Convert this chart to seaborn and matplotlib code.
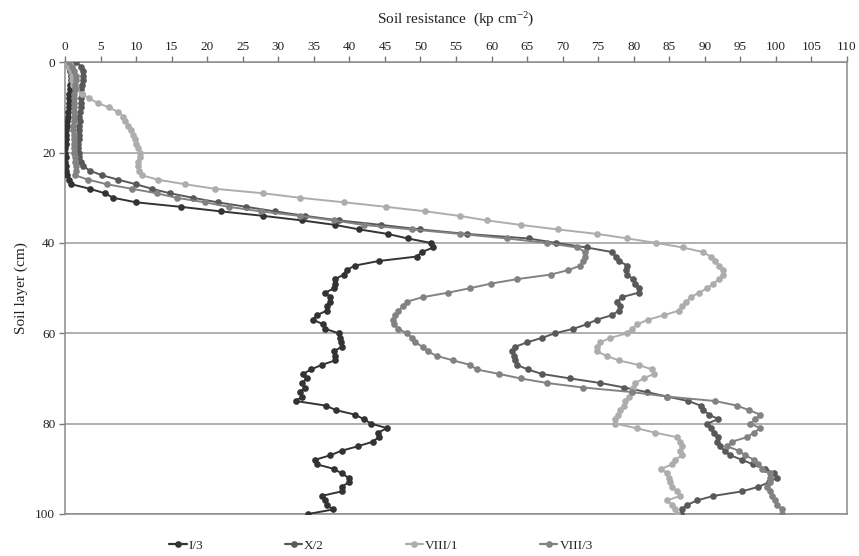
import numpy as np
import pandas as pd
import matplotlib
matplotlib.use("Agg")
import matplotlib.pyplot as plt
from matplotlib.lines import Line2D
import seaborn as sns

# ---------------- data ----------------
depth = list(range(0, 101))

I3 = [
    0.2, 0.5, 0.7, 0.8, 0.8, 0.7, 0.7, 0.6, 0.6, 0.5,
    0.5, 0.4, 0.4, 0.3, 0.3, 0.2, 0.2, 0.1, 0.1, 0.0,
    0.0, 0.1, 0.0, 0.1, 0.2, 0.3, 0.5, 0.9, 3.5, 5.6,
    6.8, 10.0, 16.3, 21.9, 27.9, 33.3, 38.0, 41.4, 45.4, 48.2,
    51.5, 51.8, 50.2, 49.5, 44.1, 40.8, 39.6, 39.2, 38.0, 38.0,
    37.9, 36.6, 37.3, 37.3, 36.8, 36.8, 35.4, 34.9, 36.3, 36.6,
    38.5, 38.7, 38.8, 38.9, 37.8, 38.0, 38.0, 36.1, 34.6, 33.5,
    34.0, 33.3, 33.8, 33.0, 33.3, 32.5, 36.7, 38.1, 40.8, 42.0,
    43.1, 45.3, 44.0, 44.1, 43.3, 41.2, 38.9, 37.3, 35.2, 35.4,
    37.8, 38.9, 39.9, 39.9, 38.9, 38.9, 36.1, 36.6, 36.8, 37.7,
    34.2]

X2 = [
    1.6, 2.3, 2.5, 2.6, 2.5, 2.4, 2.3, 2.4, 2.3, 2.2,
    2.2, 2.1, 2.0, 2.1, 2.0, 1.9, 2.0, 1.9, 1.8, 1.8,
    1.9, 2.0, 2.2, 2.6, 3.5, 5.2, 7.5, 10.0, 12.2, 14.8,
    18.0, 21.5, 25.5, 29.5, 33.8, 38.5, 44.5, 50.0, 56.5, 65.2,
    69.1, 73.4, 76.9, 77.5, 77.9, 79.1, 78.9, 79.1, 79.9, 80.2,
    80.8, 80.7, 78.3, 77.7, 78.0, 77.9, 76.9, 74.8, 73.4, 71.5,
    68.9, 67.1, 65.0, 63.3, 62.9, 63.1, 63.3, 63.6, 65.1, 67.1,
    71.1, 75.3, 78.7, 81.8, 84.7, 87.7, 89.4, 89.8, 90.6, 91.9,
    90.3, 90.8, 91.3, 91.8, 91.7, 92.1, 92.8, 93.6, 95.2, 96.8,
    98.5, 99.8, 100.1, 99.0, 97.5, 95.2, 91.2, 88.9, 87.5, 86.8,
    86.6]

VIII1 = [
    0.0, 0.5, 0.9, 1.0, 1.0, 1.1, 1.6, 2.4, 3.4, 4.6,
    6.2, 7.5, 8.2, 8.5, 8.9, 9.3, 9.5, 9.8, 10.0, 10.2,
    10.5, 10.5, 10.2, 10.2, 10.4, 10.8, 13.1, 16.9, 21.1, 27.9,
    33.1, 39.3, 45.2, 50.7, 55.5, 59.3, 64.1, 69.3, 74.9, 79.1,
    83.2, 86.9, 89.7, 90.8, 91.5, 92.0, 92.5, 92.6, 92.0, 91.2,
    90.3, 89.2, 88.0, 87.4, 86.8, 86.3, 84.2, 82.0, 80.5, 79.8,
    79.1, 76.7, 75.3, 74.8, 74.8, 76.2, 77.9, 80.7, 82.6, 82.8,
    81.4, 80.2, 79.9, 79.7, 79.3, 78.8, 78.6, 78.1, 77.8, 77.3,
    77.4, 80.4, 83.0, 86.1, 86.5, 86.8, 86.5, 86.8, 85.8, 85.4,
    83.9, 84.7, 84.9, 85.1, 85.4, 86.1, 86.5, 84.7, 85.4, 85.8,
    86.1]

VIII3 = [
    0.5, 1.0, 1.3, 1.5, 1.5, 1.4, 1.4, 1.3, 1.3, 1.2,
    1.2, 1.3, 1.2, 1.2, 1.1, 1.1, 1.2, 1.3, 1.3, 1.2,
    1.3, 1.4, 1.4, 1.5, 1.6, 1.4, 3.3, 5.9, 9.4, 12.9,
    15.7, 19.7, 23.0, 27.5, 33.0, 37.8, 42.0, 48.8, 55.6, 62.2,
    67.8, 72.0, 73.2, 73.2, 72.9, 72.5, 70.8, 68.3, 63.6, 59.9,
    57.0, 53.9, 50.3, 48.1, 47.6, 46.9, 46.4, 46.1, 46.3, 46.9,
    48.1, 48.8, 49.3, 50.3, 51.0, 52.3, 54.6, 57.0, 57.9, 61.1,
    64.1, 67.8, 72.9, 79.7, 84.7, 91.5, 94.5, 96.2, 97.8, 97.1,
    96.4, 97.8, 96.9, 95.9, 93.8, 93.1, 94.8, 95.7, 96.9, 97.5,
    98.0, 99.2, 99.2, 99.2, 98.7, 99.2, 99.4, 99.9, 100.2, 100.9,
    100.8]

series_names = ["I/3", "X/2", "VIII/1", "VIII/3"]
series_values = [I3, X2, VIII1, VIII3]
series_colors = ["#333333", "#595959", "#adadad", "#828282"]

x_ticks = list(range(0, 111, 5))
y_ticks = list(range(0, 101, 20))

# ---------------- frame ----------------
rows = []
for name, vals in zip(series_names, series_values):
    assert len(vals) == len(depth)
    for d, v in zip(depth, vals):
        rows.append({"depth": d, "resistance": v, "profile": name})
df = pd.DataFrame(rows)

sns.set_theme(style="white")
plt.rcParams["font.family"] = ["Liberation Serif", "DejaVu Serif"]
plt.rcParams["mathtext.fontset"] = "custom"
plt.rcParams["mathtext.rm"] = "Liberation Serif"
plt.rcParams["mathtext.it"] = "Liberation Serif:italic"

fig = plt.figure(figsize=(8.59, 5.56), dpi=100)
ax = fig.add_axes([65 / 859, 1 - 514 / 556, (847 - 65) / 859, (514 - 62.3) / 556])

palette = dict(zip(series_names, series_colors))
sns.lineplot(data=df, x="resistance", y="depth", hue="profile",
             hue_order=series_names, palette=palette, orient="y",
             estimator=None, sort=True, marker="o", markersize=4.8,
             markeredgewidth=0, linewidth=1.4, legend=False, ax=ax, zorder=3)

ax.set_xlim(0, 110)
ax.set_ylim(100, 0)
ax.set_xticks(x_ticks)
ax.set_yticks(y_ticks)
ax.xaxis.tick_top()
ax.xaxis.set_label_position("top")
ax.tick_params(axis="x", which="both", top=True, bottom=False, length=4,
               width=1, color="#777777", labelsize=9.5, labelcolor="#222222", pad=3)
ax.tick_params(axis="y", which="both", left=True, length=4, width=1,
               color="#777777", labelsize=9.5, labelcolor="#222222", pad=3)
ax.yaxis.grid(True, color="#9a9a9a", linewidth=1.1)
ax.xaxis.grid(False)
for s in ax.spines.values():
    s.set_color("#8a8a8a")
    s.set_linewidth(1.1)
    s.set_visible(True)

ax.set_xlabel("Soil resistance  (kp cm$^{-2}$)", fontsize=11, color="#222222", labelpad=12)
ax.set_ylabel("Soil layer (cm)", fontsize=11, color="#222222", labelpad=5)

handles = [Line2D([], [], color=c, marker="o", markersize=4.8, markeredgewidth=0, lw=1.6)
           for c in series_colors]
fig.legend(handles, series_names, loc="center", bbox_to_anchor=(381 / 859, 0.018),
           ncol=4, frameon=False, fontsize=9.5, handlelength=1.3, handletextpad=0.15,
           columnspacing=6.2, borderpad=0.1)

fig.savefig("out.png", dpi=100)
